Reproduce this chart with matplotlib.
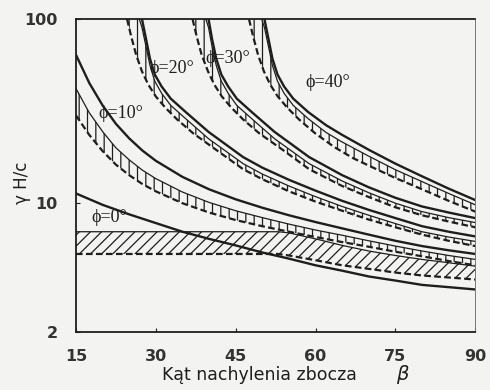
import matplotlib.pyplot as plt
from matplotlib.ticker import FixedLocator, NullLocator, FixedFormatter

plt.rcParams['hatch.linewidth'] = 0.9

# phi = 0
b0 = [15, 20, 25, 30, 35, 40, 45, 50, 55, 60, 65, 70, 75, 80, 85, 90]
s0 = [11.3, 9.8, 8.7, 7.8, 7.0, 6.4, 5.9, 5.4, 5.0, 4.6, 4.3, 4.0, 3.8, 3.6, 3.5, 3.4]
bb0 = [15, 53, 55, 60, 65, 70, 75, 80, 85, 90]
top0 = [7.0, 7.0, 6.9, 6.4, 5.9, 5.5, 5.2, 4.95, 4.75, 4.55]
bot0 = [5.3, 5.3, 5.2, 4.9, 4.6, 4.4, 4.2, 4.05, 3.95, 3.85]

# phi = 10
b10 = [15, 17.5, 20, 22.5, 25, 27.5, 30, 35, 40, 45, 50, 55, 60, 65, 70, 75, 80, 85, 90]
s10 = [64, 45, 34, 27, 22.5, 19.3, 17.0, 13.9, 11.9, 10.5, 9.45, 8.6, 7.9, 7.3, 6.75, 6.25, 5.85, 5.55, 5.3]
top10 = [42, 31, 24.5, 20, 17.2, 15.1, 13.6, 11.5, 10.1, 9.1, 8.35, 7.7, 7.15, 6.7, 6.25, 5.85, 5.5, 5.2, 4.95]
bot10 = [30, 23.5, 19.2, 16.2, 14.2, 12.7, 11.6, 10.0, 8.9, 8.1, 7.5, 7.0, 6.55, 6.15, 5.8, 5.45, 5.15, 4.85, 4.6]

# phi = 20
bs20 = [27.4, 28.2, 28.9, 29.8, 31.1, 32.8, 35.6, 39.9, 46.4, 50, 55, 60, 65, 70, 75, 80, 85, 90]
s20 = [100, 77, 61, 50, 43, 37, 31.3, 24.4, 17.8, 15.6, 13.4, 11.7, 10.3, 9.2, 8.3, 7.5, 7.0, 6.6]
bt20 = [26.9, 27.4, 28.2, 28.9, 29.8, 31.1, 32.8, 35.6, 39.9, 46.4, 50, 55, 60, 65, 70, 75, 80, 85, 90]
top20 = [100, 90, 70, 56, 46, 39.5, 34, 28.8, 22.4, 16.4, 14.4, 12.4, 10.85, 9.6, 8.6, 7.75, 7.0, 6.55, 6.2]
bl20 = [24.6, 25.4, 26.3, 27.4, 28.6, 30.0, 31.8, 34.0, 37.0, 41.0, 46.4, 50, 55, 60, 65, 70, 75, 80, 85, 90]
bot20 = [100, 80, 64, 52, 44, 38, 33, 28.5, 24.0, 19.8, 15.3, 13.5, 11.6, 10.2, 9.1, 8.15, 7.4, 6.75, 6.25, 5.85]

# phi = 30
bs30 = [39.9, 40.6, 41.35, 42.3, 43.6, 45.2, 48.0, 52.3, 58.8, 65, 70, 75, 80, 85, 90]
s30 = [100, 77, 61, 50, 43, 37, 31.3, 24.4, 17.8, 14.2, 12.2, 10.7, 9.6, 8.9, 8.3]
bt30 = [39.4, 39.9, 40.6, 41.35, 42.3, 43.6, 45.2, 48.0, 52.3, 58.8, 65, 70, 75, 80, 85, 90]
top30 = [100, 90, 70, 56, 46, 39.5, 34, 28.8, 22.4, 16.4, 13.2, 11.4, 10.0, 9.0, 8.35, 7.85]
bl30 = [36.9, 37.7, 38.6, 39.8, 41.0, 42.4, 44.2, 46.4, 49.4, 53.5, 58.8, 65, 70, 75, 80, 85, 90]
bot30 = [100, 80, 64, 52, 44, 38, 33, 28.5, 24.0, 19.8, 15.3, 12.4, 10.8, 9.5, 8.6, 7.95, 7.4]

# phi = 40
bs40 = [50.4, 51.2, 51.9, 52.85, 54.1, 55.8, 58.6, 62, 65, 70, 75, 80, 85, 90]
s40 = [100, 77, 61, 50, 43, 37, 31.3, 26.5, 23.5, 19.5, 16.4, 14.0, 12.0, 10.4]
bt40 = [49.9, 50.4, 51.2, 51.9, 52.85, 54.1, 55.8, 58.6, 62, 65, 70, 75, 80, 85, 90]
top40 = [100, 90, 70, 56, 46, 39.5, 34, 28.8, 24.2, 21.5, 18.0, 15.2, 13.1, 11.3, 9.8]
bl40 = [47.5, 48.3, 49.2, 50.3, 51.5, 52.9, 54.7, 56.9, 59.9, 63.5, 67, 70, 75, 80, 85, 90]
bot40 = [100, 80, 64, 52, 44, 38, 33, 28.5, 24.0, 20.2, 17.6, 16.0, 13.7, 11.9, 10.3, 9.0]

labels = ['ϕ=0°', 'ϕ=10°', 'ϕ=20°', 'ϕ=30°', 'ϕ=40°']
lab_x = [21.3, 23.5, 33.0, 43.6, 62.3]
lab_y = [8.4, 30.9, 54, 61.4, 45.5]

xticks = [15, 30, 45, 60, 75, 90]
yticks = [2, 10, 100]

bg = '#f3f3f1'
ink = '#1e1e1e'

fig = plt.figure(figsize=(4.9, 3.9), dpi=100, facecolor=bg)
ax = fig.add_axes([0.155, 0.149, 0.815, 0.802], facecolor=bg)
ax.set_yscale('log')


def band(xt, yt, xb, yb, hatch):
    # obszar: gorna cienka krawedz, potem dolna przerywana (odwrocona)
    px = list(xt) + list(xb)[::-1]
    py = list(yt) + list(yb)[::-1]
    ax.fill(px, py, facecolor='none', edgecolor=ink, hatch=hatch, lw=0)
    ax.plot(xt, yt, color=ink, lw=0.9)
    ax.plot(xb, yb, color=ink, lw=1.6, ls=(0, (3, 1.5)))


band(bb0, top0, bb0, bot0, '///')
band(b10, top10, b10, bot10, '||')
band(bt20, top20, bl20, bot20, '||')
band(bt30, top30, bl30, bot30, '||')
band(bt40, top40, bl40, bot40, '||')

ax.plot(b0, s0, color=ink, lw=1.7)
ax.plot(b10, s10, color=ink, lw=1.7)
ax.plot(bs20, s20, color=ink, lw=1.7)
ax.plot(bs30, s30, color=ink, lw=1.7)
ax.plot(bs40, s40, color=ink, lw=1.7)

for t, x, y in zip(labels, lab_x, lab_y):
    ax.text(x, y, t, fontsize=13, family=['Liberation Serif', 'DejaVu Serif'],
            ha='center', va='center', color=ink)

ax.set_xlim(15, 90)
ax.set_ylim(2, 100)
ax.xaxis.set_major_locator(FixedLocator(xticks))
ax.yaxis.set_major_locator(FixedLocator(yticks))
ax.yaxis.set_major_formatter(FixedFormatter([str(v) for v in yticks]))
ax.yaxis.set_minor_locator(NullLocator())
ax.tick_params(direction='in', length=3, width=0.8, labelsize=11.5, colors=ink)
ax.tick_params(axis='x', pad=12)
ax.tick_params(axis='y', pad=13)
for lab in ax.get_xticklabels() + ax.get_yticklabels():
    lab.set_fontweight('bold')
    lab.set_color('#333333')

for side in ['left', 'bottom', 'top']:
    ax.spines[side].set_linewidth(1.3)
    ax.spines[side].set_color(ink)
ax.spines['right'].set_linewidth(0.7)
ax.spines['right'].set_color('#777777')

fig.text(0.53, 0.025, 'Kąt nachylenia zbocza', fontsize=12.5, ha='center', color=ink)
fig.text(0.82, 0.025, 'β', fontsize=14, ha='center', style='italic', color=ink)
fig.text(0.045, 0.53, 'γ H/c', fontsize=12, rotation=90, ha='center', va='center', color=ink)

fig.savefig('out.png', dpi=100, facecolor=bg)
